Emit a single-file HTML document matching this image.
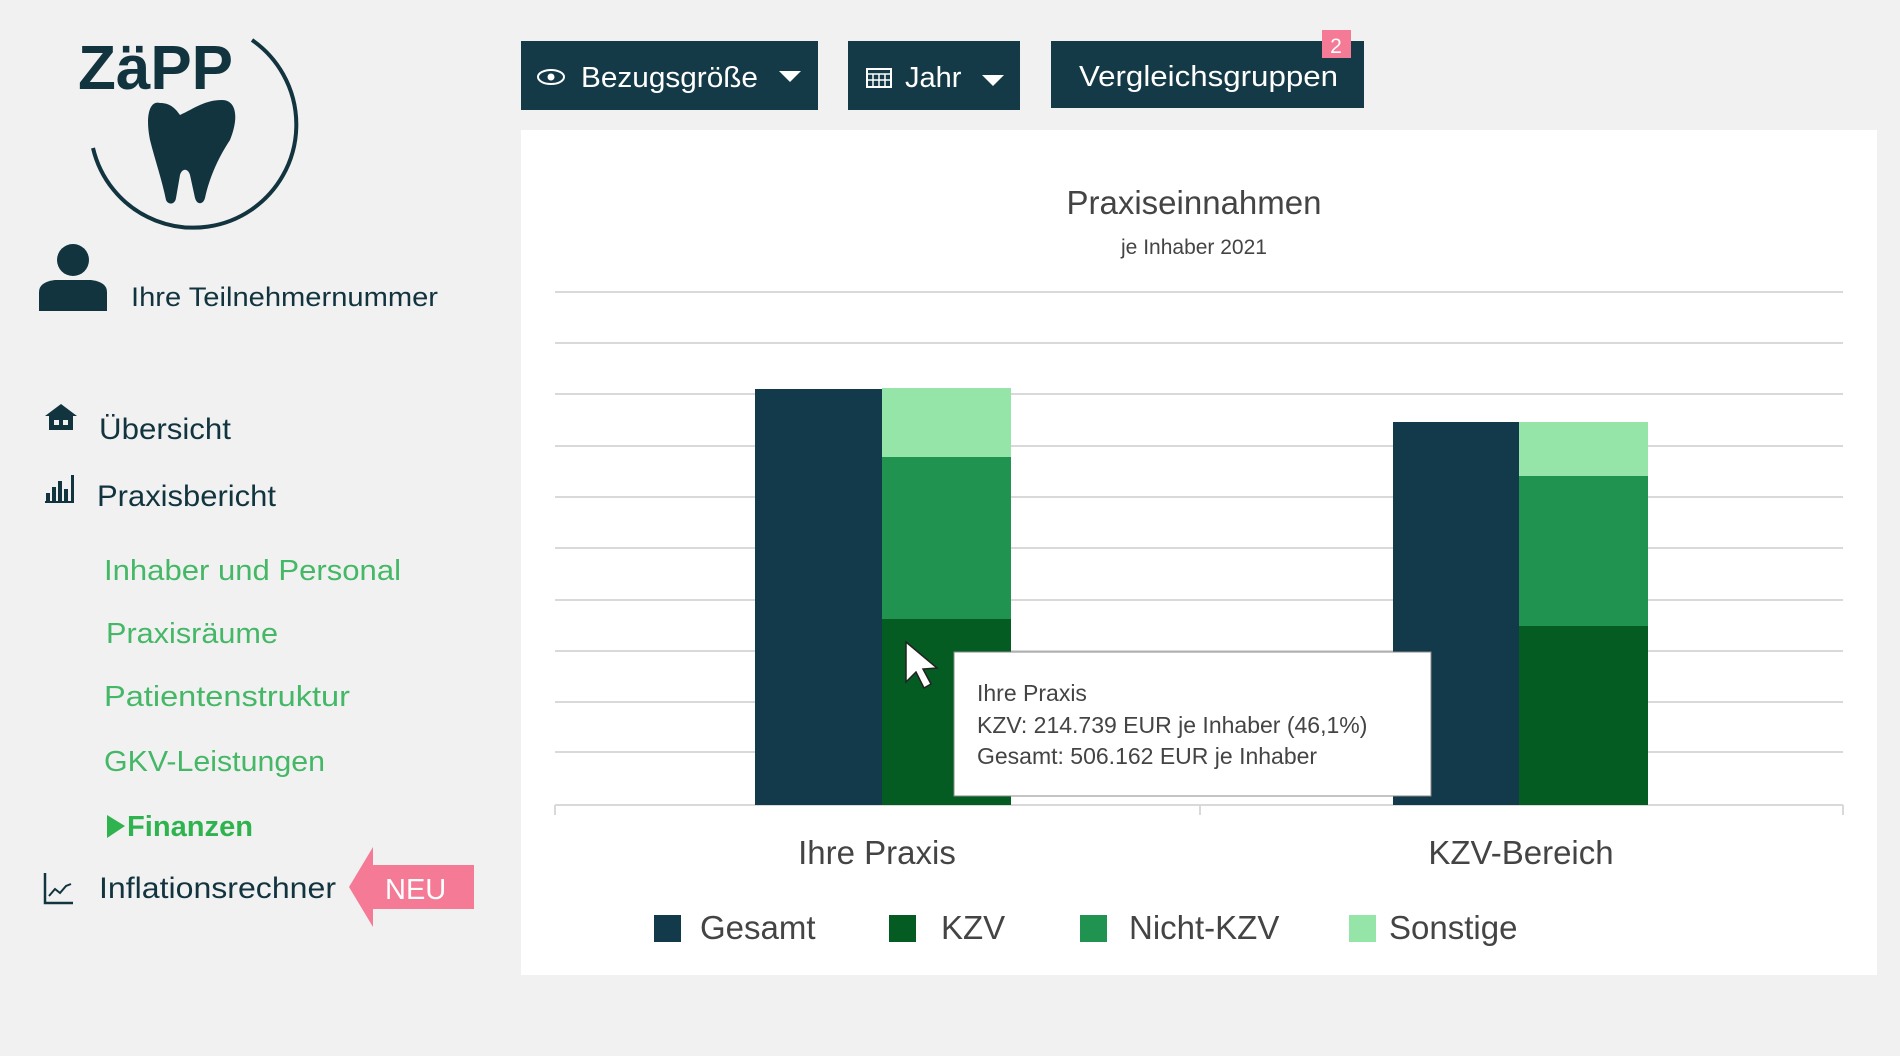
<!DOCTYPE html>
<html><head><meta charset="utf-8"><style>
html,body{margin:0;padding:0;background:#f1f1f1;}
svg{display:block;font-family:"Liberation Sans",sans-serif;}
</style></head><body>
<svg width="1900" height="1056" viewBox="0 0 1900 1056" xmlns="http://www.w3.org/2000/svg">
<rect width="1900" height="1056" fill="#f1f1f1"/>
<!-- logo -->
<text x="78" y="89" font-size="62" font-weight="bold" fill="#12343f" textLength="155" lengthAdjust="spacingAndGlyphs">ZäPP</text>
<path d="M252 40 A103 103 0 1 1 93 148" fill="none" stroke="#12343f" stroke-width="4"/>
<path d="M160 103 C150 100 145 115 150 140 C155 160 162 180 166 200 C168 205 175 205 176 198 L180 175 C182 168 188 168 190 175 L195 198 C197 205 203 205 205 198 C210 175 220 155 230 140 C240 115 235 100 222 100 C205 100 195 108 180 115 C175 108 170 103 160 103 Z" fill="#12343f"/>
<!-- user -->
<circle cx="73" cy="260" r="16" fill="#12343f"/>
<path d="M39 311 L39 292 Q39 282 55 280 L91 280 Q107 282 107 292 L107 311 Z" fill="#12343f"/>
<text x="131" y="306" font-size="27" fill="#12343f" textLength="307" lengthAdjust="spacingAndGlyphs">Ihre Teilnehmernummer</text>
<!-- nav -->
<path d="M45 416 L61 404 L77 416 L73 416 L73 430 L49 430 L49 416 Z" fill="#12343f"/>
<rect x="54" y="420" width="5" height="5" fill="#f1f1f1"/><rect x="63" y="420" width="5" height="5" fill="#f1f1f1"/>
<text x="99" y="439" font-size="30" fill="#12343f" textLength="132" lengthAdjust="spacingAndGlyphs">Übersicht</text>
<g fill="#12343f"><rect x="46" y="493" width="4" height="8"/><rect x="52" y="487" width="4" height="14"/><rect x="58" y="481" width="4" height="20"/><rect x="64" y="489" width="4" height="12"/><rect x="71" y="475" width="3" height="28"/><rect x="45" y="501" width="29" height="2"/></g>
<text x="97" y="506" font-size="30" fill="#12343f" textLength="179" lengthAdjust="spacingAndGlyphs">Praxisbericht</text>
<g font-size="29" fill="#44b866">
<text x="104" y="580" textLength="297" lengthAdjust="spacingAndGlyphs">Inhaber und Personal</text>
<text x="106" y="643" textLength="172" lengthAdjust="spacingAndGlyphs">Praxisräume</text>
<text x="104" y="706" textLength="246" lengthAdjust="spacingAndGlyphs">Patientenstruktur</text>
<text x="104" y="771" textLength="221" lengthAdjust="spacingAndGlyphs">GKV-Leistungen</text>
</g>
<path d="M107 815 L107 838 L125 826 Z" fill="#2fb34f"/>
<text x="127" y="836" font-size="29" font-weight="bold" fill="#2fb34f" textLength="126" lengthAdjust="spacingAndGlyphs">Finanzen</text>
<path d="M45 873 L45 903 L73 903" fill="none" stroke="#12343f" stroke-width="2.5"/>
<path d="M49 896 L55 889 L60 893 L66 886 L71 884" fill="none" stroke="#12343f" stroke-width="2"/>
<text x="99" y="898" font-size="30" fill="#12343f" textLength="237" lengthAdjust="spacingAndGlyphs">Inflationsrechner</text>
<path d="M349 887 L373 847 L373 865 L474 865 L474 909 L373 909 L373 927 Z" fill="#f47a96"/>
<text x="385" y="899" font-size="29" fill="#fff">NEU</text>
<!-- buttons -->
<rect x="521" y="41" width="297" height="69" fill="#153a47"/>
<ellipse cx="551" cy="77" rx="13" ry="7" fill="none" stroke="#fff" stroke-width="2"/><circle cx="551" cy="77" r="3.5" fill="#fff"/>
<text x="581" y="87" font-size="29" fill="#fff" textLength="177" lengthAdjust="spacingAndGlyphs">Bezugsgröße</text>
<path d="M779 71 L801 71 L790 82 Z" fill="#fff"/>
<rect x="848" y="41" width="172" height="69" fill="#153a47"/>
<rect x="867" y="69" width="24" height="18" fill="none" stroke="#fff" stroke-width="2"/><path d="M867 74 H891 M873 74 V87 M879 74 V87 M885 74 V87 M867 80 H891" stroke="#fff" stroke-width="1.5"/>
<text x="905" y="87" font-size="29" fill="#fff">Jahr</text>
<path d="M982 75 L1004 75 L993 86 Z" fill="#fff"/>
<rect x="1051" y="41" width="313" height="67" fill="#153a47"/>
<text x="1079" y="86" font-size="29" fill="#fff" textLength="259" lengthAdjust="spacingAndGlyphs">Vergleichsgruppen</text>
<rect x="1322" y="30" width="29" height="28" fill="#f47a96"/>
<text x="1336" y="53" font-size="21" fill="#fff" text-anchor="middle">2</text>
<!-- chart panel -->
<rect x="521" y="130" width="1356" height="845" fill="#fff"/>
<text x="1194" y="214" font-size="33" fill="#444" text-anchor="middle">Praxiseinnahmen</text>
<text x="1194" y="254" font-size="21" fill="#444" text-anchor="middle">je Inhaber 2021</text>
<g stroke="#d9d9d9" stroke-width="2">
<line x1="555" x2="1843" y1="292" y2="292"/><line x1="555" x2="1843" y1="343" y2="343"/>
<line x1="555" x2="1843" y1="394" y2="394"/><line x1="555" x2="1843" y1="446" y2="446"/>
<line x1="555" x2="1843" y1="497" y2="497"/><line x1="555" x2="1843" y1="548" y2="548"/>
<line x1="555" x2="1843" y1="600" y2="600"/><line x1="555" x2="1843" y1="651" y2="651"/>
<line x1="555" x2="1843" y1="702" y2="702"/><line x1="555" x2="1843" y1="752" y2="752"/>
<line x1="555" x2="1843" y1="805" y2="805"/>
<line x1="555" x2="555" y1="805" y2="815"/><line x1="1200" x2="1200" y1="805" y2="815"/><line x1="1843" x2="1843" y1="805" y2="815"/>
</g>
<rect x="755" y="389" width="127" height="416" fill="#133a4a"/>
<rect x="882" y="388" width="129" height="69" fill="#95e4a8"/>
<rect x="882" y="457" width="129" height="162" fill="#1f934f"/>
<rect x="882" y="619" width="129" height="186" fill="#045c22"/>
<rect x="1393" y="422" width="126" height="383" fill="#133a4a"/>
<rect x="1519" y="422" width="129" height="54" fill="#95e4a8"/>
<rect x="1519" y="476" width="129" height="150" fill="#1f934f"/>
<rect x="1519" y="626" width="129" height="179" fill="#045c22"/>
<text x="877" y="864" font-size="33" fill="#444" text-anchor="middle">Ihre Praxis</text>
<text x="1521" y="864" font-size="33" fill="#444" text-anchor="middle">KZV-Bereich</text>
<rect x="654" y="915" width="27" height="27" fill="#133a4a"/><text x="700" y="939" font-size="33" fill="#444">Gesamt</text>
<rect x="889" y="915" width="27" height="27" fill="#045c22"/><text x="941" y="939" font-size="33" fill="#444">KZV</text>
<rect x="1080" y="915" width="27" height="27" fill="#1f934f"/><text x="1129" y="939" font-size="33" fill="#444">Nicht-KZV</text>
<rect x="1349" y="915" width="27" height="27" fill="#95e4a8"/><text x="1389" y="939" font-size="33" fill="#444">Sonstige</text>
<!-- tooltip -->
<rect x="954" y="652" width="477" height="144" fill="#fff" stroke="#888" stroke-width="1"/>
<g font-size="23" fill="#444">
<text x="977" y="701">Ihre Praxis</text>
<text x="977" y="733">KZV: 214.739 EUR je Inhaber (46,1%)</text>
<text x="977" y="764">Gesamt: 506.162 EUR je Inhaber</text>
</g>
<path d="M906 642 L906 682 L916 672 L924 688 L931 684 L923 669 L937 668 Z" fill="#fff" stroke="#222" stroke-width="1.5"/>
</svg>
</body></html>
